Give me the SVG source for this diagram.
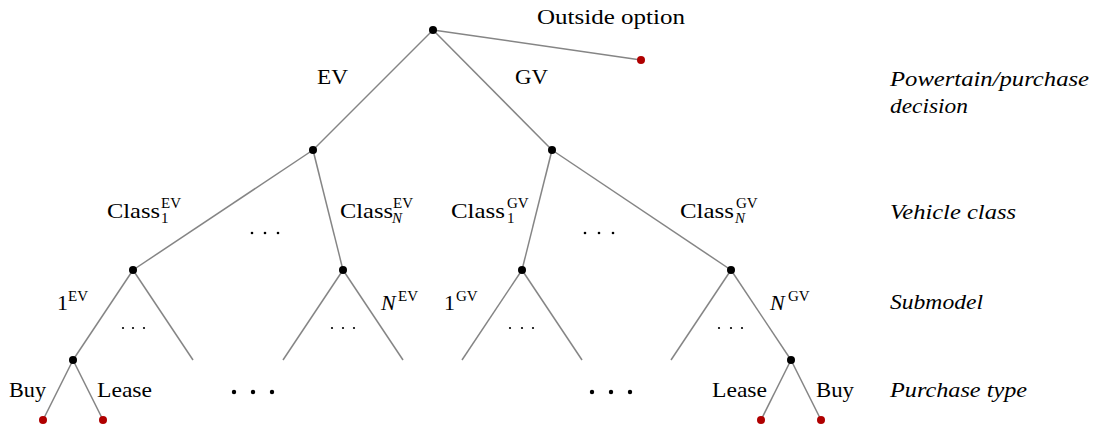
<svg xmlns="http://www.w3.org/2000/svg" width="1093" height="427" viewBox="0 0 1093 427">
<style>
.e{stroke:#858585;stroke-width:1.5;fill:none}
.n{fill:#000}
.l{fill:#b00000}
text{font-family:"Liberation Serif","DejaVu Serif",serif;fill:#000;font-size:22px}
.s{font-size:15px}
.i{font-style:italic}
</style>
<rect width="1093" height="427" fill="#fff"/>
<g id="connectors">
<line class="e" x1="433" y1="30" x2="641" y2="60"/>
<line class="e" x1="433" y1="30" x2="313" y2="150"/>
<line class="e" x1="433" y1="30" x2="552" y2="150"/>
<line class="e" x1="313" y1="150" x2="133" y2="270"/>
<line class="e" x1="313" y1="150" x2="343" y2="270"/>
<line class="e" x1="552" y1="150" x2="522" y2="270"/>
<line class="e" x1="552" y1="150" x2="731" y2="270"/>
<line class="e" x1="133" y1="270" x2="73" y2="360"/>
<line class="e" x1="133" y1="270" x2="193" y2="360"/>
<line class="e" x1="343" y1="270" x2="283" y2="360"/>
<line class="e" x1="343" y1="270" x2="403" y2="360"/>
<line class="e" x1="522" y1="270" x2="462" y2="360"/>
<line class="e" x1="522" y1="270" x2="582" y2="360"/>
<line class="e" x1="731" y1="270" x2="671" y2="360"/>
<line class="e" x1="731" y1="270" x2="791" y2="360"/>
<line class="e" x1="73" y1="360" x2="43" y2="420"/>
<line class="e" x1="73" y1="360" x2="103" y2="420"/>
<line class="e" x1="791" y1="360" x2="761" y2="420"/>
<line class="e" x1="791" y1="360" x2="821" y2="420"/>
</g>
<g id="root"><circle class="n" cx="433" cy="30" r="4"/></g>
<g id="outside"><circle class="l" cx="641" cy="60" r="4"/><text x="537" y="24" textLength="148" lengthAdjust="spacingAndGlyphs">Outside option</text></g>
<g id="ev"><circle class="n" cx="313" cy="150" r="4"/><text x="317" y="84" textLength="31" lengthAdjust="spacingAndGlyphs">EV</text></g>
<g id="gv"><circle class="n" cx="552" cy="150" r="4"/><text x="515" y="84" textLength="33" lengthAdjust="spacingAndGlyphs">GV</text></g>
<g id="ev1"><circle class="n" cx="133" cy="270" r="4"/>
<text x="107" y="218" textLength="53" lengthAdjust="spacingAndGlyphs">Class</text><text class="s" x="161" y="208">EV</text><text class="s" x="161" y="223">1</text></g>
<g id="evN"><circle class="n" cx="343" cy="270" r="4"/>
<text x="340" y="218" textLength="53" lengthAdjust="spacingAndGlyphs">Class</text><text class="s" x="393" y="208">EV</text><text class="s i" x="392" y="223">N</text></g>
<g id="gv1"><circle class="n" cx="522" cy="270" r="4"/>
<text x="451" y="218" textLength="54" lengthAdjust="spacingAndGlyphs">Class</text><text class="s" x="507" y="208">GV</text><text class="s" x="507" y="223">1</text></g>
<g id="gvN"><circle class="n" cx="731" cy="270" r="4"/>
<text x="680" y="218" textLength="54" lengthAdjust="spacingAndGlyphs">Class</text><text class="s" x="736" y="208">GV</text><text class="s i" x="735" y="223">N</text></g>
<g id="sub-ev1"><circle class="n" cx="73" cy="360" r="4"/>
<text x="57" y="310">1</text><text class="s" x="68" y="301">EV</text></g>
<g id="sub-evN"><text class="i" x="381" y="310">N</text><text class="s" x="398" y="301">EV</text></g>
<g id="sub-gv1"><text x="444" y="310">1</text><text class="s" x="456" y="301">GV</text></g>
<g id="sub-gvN"><circle class="n" cx="791" cy="360" r="4"/>
<text class="i" x="770" y="310">N</text><text class="s" x="788" y="301">GV</text></g>
<g id="leaf-buy-l"><circle class="l" cx="43" cy="420" r="4"/><text x="9" y="397" textLength="37" lengthAdjust="spacingAndGlyphs">Buy</text></g>
<g id="leaf-lease-l"><circle class="l" cx="103" cy="420" r="4"/><text x="97" y="397" textLength="55" lengthAdjust="spacingAndGlyphs">Lease</text></g>
<g id="leaf-lease-r"><circle class="l" cx="761" cy="420" r="4"/><text x="712" y="397" textLength="55" lengthAdjust="spacingAndGlyphs">Lease</text></g>
<g id="leaf-buy-r"><circle class="l" cx="821" cy="420" r="4"/><text x="816" y="397" textLength="38" lengthAdjust="spacingAndGlyphs">Buy</text></g>
<g id="ellipses" class="n">
<circle cx="252" cy="233" r="1.3"/><circle cx="265" cy="233" r="1.3"/><circle cx="278" cy="233" r="1.3"/>
<circle cx="585" cy="233" r="1.3"/><circle cx="599" cy="233" r="1.3"/><circle cx="613" cy="233" r="1.3"/>
<circle cx="123" cy="328" r="1.1"/><circle cx="133" cy="328" r="1.1"/><circle cx="144" cy="328" r="1.1"/>
<circle cx="332" cy="328" r="1.1"/><circle cx="343" cy="328" r="1.1"/><circle cx="354" cy="328" r="1.1"/>
<circle cx="510" cy="328" r="1.1"/><circle cx="522" cy="328" r="1.1"/><circle cx="533" cy="328" r="1.1"/>
<circle cx="719" cy="328" r="1.1"/><circle cx="731" cy="328" r="1.1"/><circle cx="742" cy="328" r="1.1"/>
<circle cx="234" cy="392" r="2.2"/><circle cx="253" cy="392" r="2.2"/><circle cx="272" cy="392" r="2.2"/>
<circle cx="592" cy="392" r="2.2"/><circle cx="611" cy="392" r="2.2"/><circle cx="630" cy="392" r="2.2"/>
</g>
<g id="levels">
<text class="i" x="890" y="86" textLength="199" lengthAdjust="spacingAndGlyphs">Powertain/purchase</text>
<text class="i" x="890" y="113" textLength="78" lengthAdjust="spacingAndGlyphs">decision</text>
<text class="i" x="890" y="219" textLength="126" lengthAdjust="spacingAndGlyphs">Vehicle class</text>
<text class="i" x="890" y="309" textLength="93" lengthAdjust="spacingAndGlyphs">Submodel</text>
<text class="i" x="890" y="397" textLength="137" lengthAdjust="spacingAndGlyphs">Purchase type</text>
</g>
</svg>
